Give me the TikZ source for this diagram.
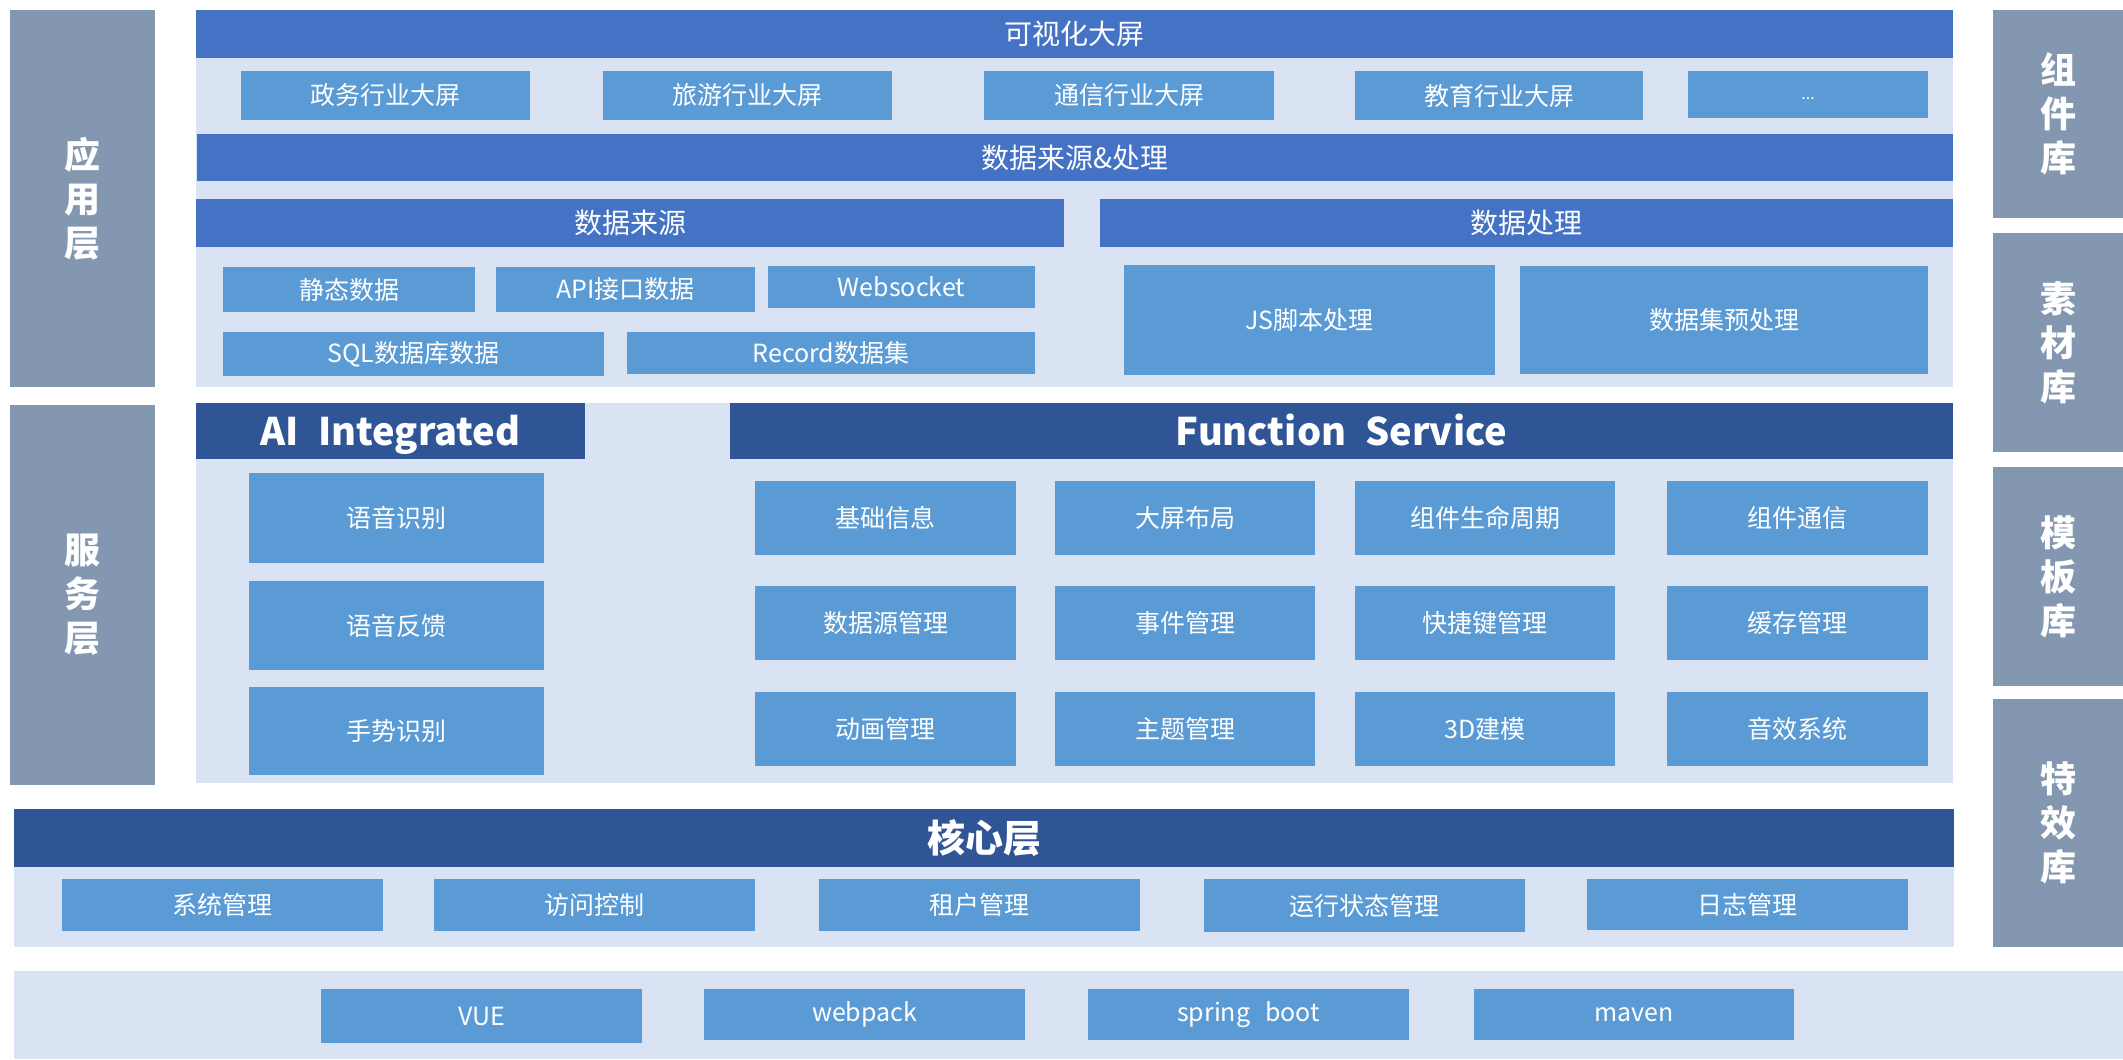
\documentclass[tikz,border=0pt]{standalone}
\usepackage{fontspec}
\setmainfont{Noto Sans CJK SC}
\definecolor{sidegray}{HTML}{8497B0}
\definecolor{lightbg}{HTML}{DAE3F3}
\definecolor{bannerblue}{HTML}{4472C4}
\definecolor{darkblue}{HTML}{2F5597}
\definecolor{boxblue}{HTML}{5B9BD5}
% style, name, x1, y1, x2, y2, text
\newcommand{\bx}[7]{%
  \pgfmathsetmacro\bxw{(#5-#3)*0.5}%
  \pgfmathsetmacro\bxh{(#6-#4)*0.5}%
  \node[#1, minimum width=\bxw pt, minimum height=\bxh pt] (#2) at ({(#3+#5)/2},{(#4+#6)/2}) {#7};}
\tikzset{
  base/.style={inner sep=0pt, outer sep=0pt, draw=none, text=white},
  panel/.style={base, fill=lightbg},
  side/.style={base, fill=sidegray, align=center, font=\fontsize{18}{22}\selectfont\bfseries},
  banner/.style={base, fill=bannerblue, font=\fontsize{14}{16}\selectfont},
  darkbar/.style={base, fill=darkblue, font=\fontsize{19}{22}\selectfont\bfseries},
  latinbar/.style={darkbar, text height=14pt, text depth=0pt},
  itembox/.style={base, fill=boxblue, font=\fontsize{12.5}{14}\selectfont},
}
\begin{document}
\begin{tikzpicture}[x=0.5pt,y=-0.5pt]
\useasboundingbox[fill=white] (0,0) rectangle (2123,1059);
% side labels
\bx{side}{sApp}{10}{10}{155}{387}{应\\用\\层}
\bx{side}{sSrv}{10}{405}{155}{785}{服\\务\\层}
\bx{side}{rComp}{1993}{10}{2123}{218}{组\\件\\库}
\bx{side}{rMat}{1993}{233}{2123}{452}{素\\材\\库}
\bx{side}{rTpl}{1993}{467}{2123}{686}{模\\板\\库}
\bx{side}{rFx}{1993}{699}{2123}{947}{特\\效\\库}
% application layer
\bx{panel}{appbg}{196}{10}{1953}{387}{}
\bx{banner}{vis}{196}{10}{1953}{58}{可视化大屏}
\bx{itembox}{v1}{241}{71}{530}{120}{政务行业大屏}
\bx{itembox}{v2}{603}{71}{892}{120}{旅游行业大屏}
\bx{itembox}{v3}{984}{71}{1274}{120}{通信行业大屏}
\bx{itembox}{v4}{1355}{71}{1643}{120}{教育行业大屏}
\bx{itembox, text height=5pt, text depth=0pt}{v5}{1688}{71}{1928}{118}{\fontsize{8}{9}\selectfont ...}
\bx{banner}{dsp}{197}{134}{1953}{181}{数据来源\&处理}
\bx{banner}{ds}{196}{199}{1064}{247}{数据来源}
\bx{banner}{dp}{1100}{199}{1953}{247}{数据处理}
\bx{itembox}{d1}{223}{267}{475}{312}{静态数据}
\bx{itembox}{d2}{496}{267}{755}{312}{API接口数据}
\bx{itembox}{d3}{768}{266}{1035}{308}{Websocket}
\bx{itembox}{d4}{223}{332}{604}{376}{SQL数据库数据}
\bx{itembox}{d5}{627}{332}{1035}{374}{Record数据集}
\bx{itembox}{p1}{1124}{265}{1495}{375}{JS脚本处理}
\bx{itembox}{p2}{1520}{266}{1928}{374}{数据集预处理}
% service layer
\bx{panel}{srvbg}{196}{403}{1953}{783}{}
\bx{latinbar}{ai}{196}{403}{585}{459}{AI\hspace{0.5em}Integrated}
\bx{latinbar}{fs}{730}{403}{1953}{459}{Function\hspace{0.5em}Service}
\bx{itembox}{a1}{249}{473}{544}{563}{语音识别}
\bx{itembox}{a2}{249}{581}{544}{670}{语音反馈}
\bx{itembox}{a3}{249}{687}{544}{775}{手势识别}
\bx{itembox}{f11}{755}{481}{1016}{555}{基础信息}
\bx{itembox}{f12}{1055}{481}{1315}{555}{大屏布局}
\bx{itembox}{f13}{1355}{481}{1615}{555}{组件生命周期}
\bx{itembox}{f14}{1667}{481}{1928}{555}{组件通信}
\bx{itembox}{f21}{755}{586}{1016}{660}{数据源管理}
\bx{itembox}{f22}{1055}{586}{1315}{660}{事件管理}
\bx{itembox}{f23}{1355}{586}{1615}{660}{快捷键管理}
\bx{itembox}{f24}{1667}{586}{1928}{660}{缓存管理}
\bx{itembox}{f31}{755}{692}{1016}{766}{动画管理}
\bx{itembox}{f32}{1055}{692}{1315}{766}{主题管理}
\bx{itembox}{f33}{1355}{692}{1615}{766}{3D建模}
\bx{itembox}{f34}{1667}{692}{1928}{766}{音效系统}
% core layer
\bx{panel}{corebg}{14}{809}{1954}{947}{}
\bx{darkbar}{core}{14}{809}{1954}{867}{核心层}
\bx{itembox}{c1}{62}{879}{383}{931}{系统管理}
\bx{itembox}{c2}{434}{879}{755}{931}{访问控制}
\bx{itembox}{c3}{819}{879}{1140}{931}{租户管理}
\bx{itembox}{c4}{1204}{879}{1525}{932}{运行状态管理}
\bx{itembox}{c5}{1587}{879}{1908}{930}{日志管理}
% base layer
\bx{panel}{basebg}{14}{971}{2123}{1059}{}
\bx{itembox}{b1}{321}{989}{642}{1043}{VUE}
\bx{itembox}{b2}{704}{989}{1025}{1040}{webpack}
\bx{itembox}{b3}{1088}{989}{1409}{1040}{spring\hspace{0.6em}boot}
\bx{itembox}{b4}{1474}{989}{1794}{1040}{maven}
\end{tikzpicture}
\end{document}
